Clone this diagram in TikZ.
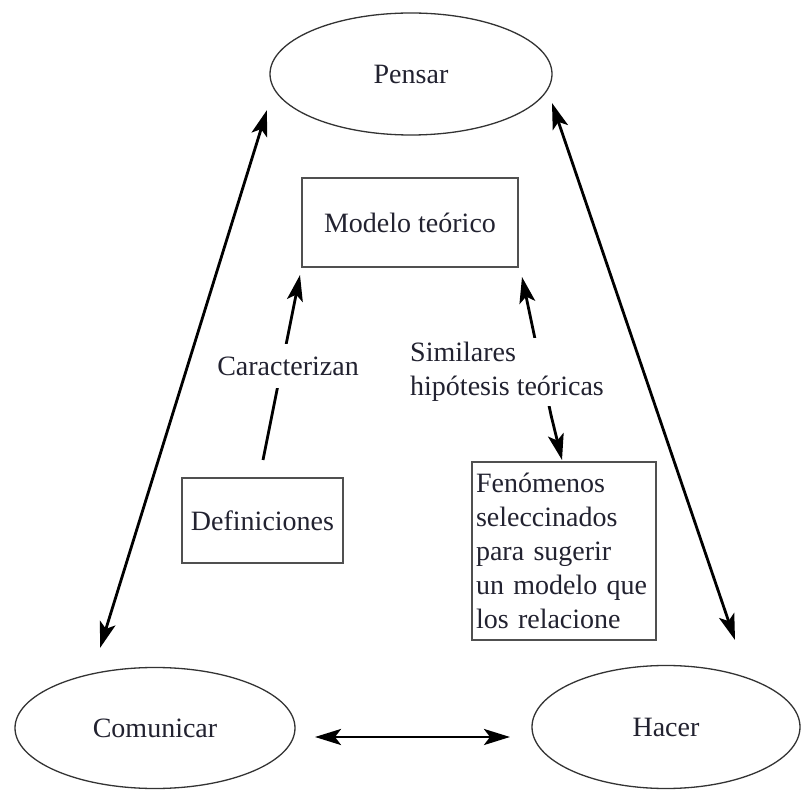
\documentclass[tikz,border=0pt]{standalone}
\usepackage{fontspec}
\setmainfont{Liberation Serif}
\usetikzlibrary{arrows.meta,shapes.geometric}
\definecolor{txtc}{HTML}{222230}
\definecolor{ovalc}{HTML}{333333}
\definecolor{boxc}{HTML}{505050}
\begin{document}
\begin{tikzpicture}[x=1pt,y=-1pt,
  txt/.style={text=txtc, font=\fontsize{28}{34}\selectfont},
  oval/.style={draw=ovalc, line width=1.3pt, ellipse, inner sep=0pt, txt},
  boxn/.style={draw=boxc, line width=1.6pt, rectangle, inner sep=0pt, txt},
  tip/.style={Stealth[length=26pt,width=16pt,inset=6pt]},
  arr/.style={line width=2.8pt, -{Stealth[length=26pt,width=16pt,inset=6pt]}},
  darr/.style={line width=2.8pt, {Stealth[length=26pt,width=16pt,inset=6pt]}-{Stealth[length=26pt,width=16pt,inset=6pt]}},
  lbl/.style={txt, fill=white, inner xsep=3pt, inner ysep=13pt}
]
\useasboundingbox[fill=white] (0,0) rectangle (801,791);

\node[oval, minimum width=282pt, minimum height=122pt] (pensar) at (411,74) {Pensar};
\node[oval, minimum width=280pt, minimum height=121pt] (comunicar) at (155,728) {Comunicar};
\node[oval, minimum width=268pt, minimum height=123pt] (hacer) at (666,727) {Hacer};

\node[boxn, minimum width=216pt, minimum height=89pt] (modelo) at (410,222.5) {Modelo teórico};
\node[boxn, minimum width=161pt, minimum height=85pt] (defin) at (262.5,520.5) {Definiciones};
\node[boxn, text width=176pt, align=left, inner xsep=4pt, minimum height=178pt] (fen) at (564,551)
  {Fenómenos\\ seleccinados\\ para sugerir\\ un modelo que\\ los relacione};

% free ends of connectors
\coordinate (pcA) at (267,110);
\coordinate (pcB) at (100,648);
\coordinate (phA) at (552,103);
\coordinate (phB) at (735,640);
\coordinate (chA) at (315,737);
\coordinate (chB) at (510,737);
\coordinate (dmA) at (263,460);
\coordinate (dmB) at (300,275);
\coordinate (fmA) at (562,460);
\coordinate (fmB) at (522,277);
\coordinate (fmC) at (551,415);

\draw[darr] (pcA) -- (pcB);
\draw[darr] (phA) -- (phB);
\draw[darr] (chA) -- (chB);

\draw[arr] (dmA) -- (dmB);
\node[lbl] (carac) at (288,366) {Caracterizan};

\draw[line width=2.8pt, -{Stealth[length=26pt,width=16pt,inset=6pt]}] (fmC) -- (fmB);
\draw[arr] (fmC) -- (fmA);
\node[lbl, align=left, anchor=west, inner ysep=4pt] (simil) at (407,372) {Similares\\hipótesis teóricas};
\end{tikzpicture}
\end{document}
